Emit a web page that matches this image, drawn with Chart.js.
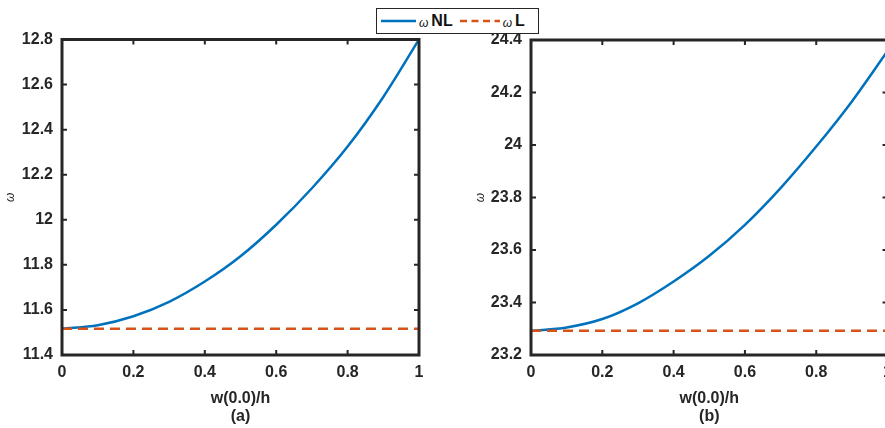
<!DOCTYPE html>
<html>
<head>
<meta charset="utf-8">
<script src="https://cdn.jsdelivr.net/npm/chart.js@4.4.0/dist/chart.umd.min.js"></script>
<style>
  html, body { margin: 0; padding: 0; background: #fff; overflow: hidden; }
  body { width: 885px; height: 428px; position: relative; }
  canvas { position: absolute; top: 0; }
  #chartA { left: 0; }
  #chartB { left: 470px; }
  #legend {
    position: absolute; left: 376px; top: 8px; width: 163px; height: 26px;
    box-sizing: border-box; border: 1.5px solid #262626; background: #fff;
    display: flex; align-items: center; padding-left: 4px;
    font-family: "Liberation Sans", Arial, sans-serif; color: #111;
  }
  #legend .w { font-style: italic; font-size: 12px; margin: 3px 3px 0 3px; }
  #legend .t { font-weight: bold; font-size: 16px; }
  #legend svg { display: block; }
</style>
</head>
<body>
<canvas id="chartA" width="450" height="428"></canvas>
<canvas id="chartB" width="430" height="428"></canvas>
<div id="legend"></div>
<script>
// values, w(0.0)/h = 0 .. 1
const xValues = [0, 0.1, 0.2, 0.3, 0.4, 0.5, 0.6, 0.7, 0.8, 0.9, 1];
const nlA = [11.516, 11.532, 11.572, 11.636, 11.726, 11.838, 11.978, 12.140, 12.325, 12.545, 12.8];
const nlB = [23.292, 23.305, 23.337, 23.397, 23.480, 23.578, 23.696, 23.836, 23.994, 24.166, 24.358];
// linear frequency is flat
const linX = [0, 1];
const lA = [11.516, 11.516];
const lB = [23.292, 23.292];

const seriesNames = ['ω NL', 'ω L'];
const xLabel = 'w(0.0)/h';
const yLabel = 'ω';
const panelTags = ['(a)', '(b)'];
const yRangeA = [11.4, 12.8];
const yRangeB = [23.2, 24.4];

const blue = '#0072BD';
const orange = '#D95319';
const axisColor = '#262626';
const fontFamily = '"Liberation Sans", Arial, sans-serif';

function toPoints(xs, ys) {
  return xs.map((x, i) => ({ x: x, y: ys[i] }));
}

// drop trailing zeros like matlab does (12 not 12.0)
function fmt(v) {
  return String(Number(v.toFixed(2)));
}

// matlab style box with inward ticks on all four sides
const boxPlugin = {
  id: 'boxPlugin',
  afterDatasetsDraw(chart) {
    const ctx = chart.ctx;
    const a = chart.chartArea;
    const xs = chart.scales.x, ys = chart.scales.y;
    ctx.save();
    ctx.strokeStyle = axisColor;
    ctx.lineWidth = 2;
    ctx.beginPath();
    xs.ticks.forEach(t => {
      const px = xs.getPixelForValue(t.value);
      ctx.moveTo(px, a.bottom); ctx.lineTo(px, a.bottom - 5);
      ctx.moveTo(px, a.top); ctx.lineTo(px, a.top + 5);
    });
    ys.ticks.forEach(t => {
      const py = ys.getPixelForValue(t.value);
      ctx.moveTo(a.left, py); ctx.lineTo(a.left + 5, py);
      ctx.moveTo(a.right, py); ctx.lineTo(a.right - 5, py);
    });
    ctx.stroke();
    ctx.lineWidth = 3;
    ctx.strokeRect(a.left, a.top, a.right - a.left, a.bottom - a.top);
    ctx.restore();
  }
};

function makeChart(canvas, nl, l, yRange, tag, yWidth, pad) {
  const tickFont = { family: fontFamily, size: 16, weight: 'bold' };
  return new Chart(canvas.getContext('2d'), {
    type: 'line',
    data: {
      datasets: [{
        label: seriesNames[0],
        data: toPoints(xValues, nl),
        borderColor: blue,
        borderWidth: 2.5,
        pointRadius: 0,
        cubicInterpolationMode: 'monotone',
        order: 1
      }, {
        label: seriesNames[1],
        data: toPoints(linX, l),
        borderColor: orange,
        borderWidth: 2.5,
        borderDash: [10, 6],
        pointRadius: 0,
        order: 0
      }]
    },
    options: {
      responsive: false,
      animation: false,
      devicePixelRatio: 1,
      layout: { padding: pad },
      plugins: { legend: { display: false }, tooltip: { enabled: false } },
      scales: {
        x: {
          type: 'linear', min: 0, max: 1,
          ticks: { stepSize: 0.2, padding: 8, color: axisColor, font: tickFont, callback: fmt },
          grid: { display: false, drawTicks: false },
          border: { display: false },
          title: {
            display: true, text: [xLabel, tag], color: axisColor,
            font: { family: fontFamily, size: 16, weight: 'bold', lineHeight: 1.15 },
            padding: { top: 0, bottom: 2 }
          },
          afterFit(s) { s.height = 73; }
        },
        y: {
          type: 'linear', min: yRange[0], max: yRange[1],
          ticks: { stepSize: 0.2, padding: 9, color: axisColor, font: tickFont, callback: fmt },
          grid: { display: false, drawTicks: false },
          border: { display: false },
          title: {
            display: true, text: yLabel, color: axisColor,
            font: { family: fontFamily, size: 12, style: 'italic', weight: 'normal' },
            padding: { top: 3, bottom: 0 }
          },
          afterFit(s) { s.width = yWidth; }
        }
      }
    },
    plugins: [boxPlugin]
  });
}

const chartA = makeChart(document.getElementById('chartA'), nlA, lA, yRangeA, panelTags[0], 62,
  { top: 39.5, right: 31, left: 0, bottom: 0 });
const chartB = makeChart(document.getElementById('chartB'), nlB, lB, yRangeB, panelTags[1], 61,
  { top: 40, right: 12, left: 0, bottom: 0 });

// shared legend across both panels
function buildLegend(chart) {
  const el = document.getElementById('legend');
  let html = '';
  chart.data.datasets.forEach((ds, i) => {
    const dash = ds.borderDash ? 'stroke-dasharray="7 4.5"' : '';
    const w = ds.borderDash ? 40 : 35;
    const gap = i > 0 ? 'style="margin-left:7px"' : '';
    const parts = ds.label.split(' ');
    html += '<svg ' + gap + ' width="' + w + '" height="6"><line x1="0" y1="3" x2="' + w + '" y2="3" stroke="' +
      ds.borderColor + '" stroke-width="2.5" ' + dash + '/></svg>';
    html += '<span class="w">' + parts[0] + '</span><span class="t">' + parts[1] + '</span>';
  });
  el.innerHTML = html;
}
buildLegend(chartA);
</script>
</body>
</html>
